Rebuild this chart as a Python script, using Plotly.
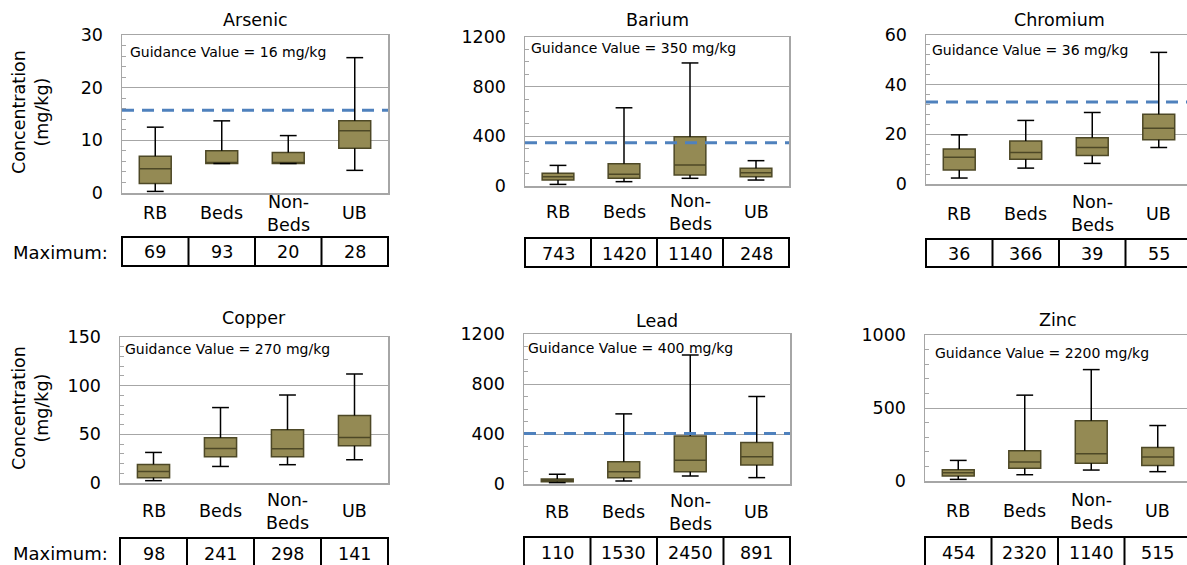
import plotly.graph_objects as go

W, H = 1187, 565

# ---------------- data ----------------
CATEGORIES = ["RB", "Beds", "Non-<br>Beds", "UB"]
METALS = ["Arsenic", "Barium", "Chromium", "Copper", "Lead", "Zinc"]
GUIDANCE_TEXT = [16, 350, 36, 270, 400, 2200]          # mg/kg, as labelled
GUIDANCE_LINE = [15.7, 348, 33, None, 405, None]       # dashed line as drawn
Y_MAX = [30, 1200, 60, 150, 1200, 1000]
Y_MAJOR = [10, 400, 20, 50, 400, 500]
Y_MINOR = [2, 100, 4, 10, 100, 100]

ARSENIC_LOW = [0.3, 5.6, 5.6, 4.3]
ARSENIC_Q1 = [1.8, 5.6, 5.6, 8.5]
ARSENIC_MED = [4.6, 5.8, 5.7, 11.8]
ARSENIC_Q3 = [7.0, 8.0, 7.7, 13.7]
ARSENIC_HIGH = [12.5, 13.7, 10.9, 25.7]
ARSENIC_MAX = [69, 93, 20, 28]

BARIUM_LOW = [13, 35, 62, 48]
BARIUM_Q1 = [48, 62, 88, 75]
BARIUM_MED = [75, 94, 169, 107]
BARIUM_Q3 = [102, 180, 396, 142]
BARIUM_HIGH = [166, 630, 991, 204]
BARIUM_MAX = [743, 1420, 1140, 248]

CHROMIUM_LOW = [2.4, 6.4, 8.3, 14.7]
CHROMIUM_Q1 = [5.6, 10.0, 11.5, 17.8]
CHROMIUM_MED = [10.8, 12.7, 14.7, 22.5]
CHROMIUM_Q3 = [14.1, 17.3, 18.6, 28.1]
CHROMIUM_HIGH = [19.8, 25.6, 28.8, 53.0]
CHROMIUM_MAX = [36, 366, 39, 55]

COPPER_LOW = [2.4, 17.0, 18.8, 23.9]
COPPER_Q1 = [5.5, 27.0, 27.0, 38.2]
COPPER_MED = [11.9, 35.5, 35.2, 46.8]
COPPER_Q3 = [19.1, 46.4, 54.6, 69.3]
COPPER_HIGH = [31.4, 77.5, 90.4, 112.0]
COPPER_MAX = [98, 241, 298, 141]

LEAD_LOW = [11, 24, 64, 51]
LEAD_Q1 = [19, 51, 99, 152]
LEAD_MED = [29, 99, 190, 219]
LEAD_Q3 = [40, 179, 385, 332]
LEAD_HIGH = [78, 561, 1032, 700]
LEAD_MAX = [110, 1530, 2450, 891]

ZINC_LOW = [11, 43, 75, 64]
ZINC_Q1 = [34, 87, 121, 107]
ZINC_MED = [57, 130, 187, 164]
ZINC_Q3 = [77, 207, 412, 230]
ZINC_HIGH = [141, 588, 763, 380]
ZINC_MAX = [454, 2320, 1140, 515]

STATS = [
    (ARSENIC_LOW, ARSENIC_Q1, ARSENIC_MED, ARSENIC_Q3, ARSENIC_HIGH, ARSENIC_MAX),
    (BARIUM_LOW, BARIUM_Q1, BARIUM_MED, BARIUM_Q3, BARIUM_HIGH, BARIUM_MAX),
    (CHROMIUM_LOW, CHROMIUM_Q1, CHROMIUM_MED, CHROMIUM_Q3, CHROMIUM_HIGH, CHROMIUM_MAX),
    (COPPER_LOW, COPPER_Q1, COPPER_MED, COPPER_Q3, COPPER_HIGH, COPPER_MAX),
    (LEAD_LOW, LEAD_Q1, LEAD_MED, LEAD_Q3, LEAD_HIGH, LEAD_MAX),
    (ZINC_LOW, ZINC_Q1, ZINC_MED, ZINC_Q3, ZINC_HIGH, ZINC_MAX),
]

# ---------------- layout (pixels) ----------------
PANELS = [
    dict(box=(122, 35, 388, 193), title_y=20, cat_y=213, table=(237, 266), gtext=(128, 52)),
    dict(box=(525, 37, 789, 186), title_y=20, cat_y=212, table=(238, 267), gtext=(529, 48)),
    dict(box=(926, 35, 1192, 184), title_y=20, cat_y=214, table=(239, 267), gtext=(930, 50)),
    dict(box=(120, 337, 388, 483), title_y=318, cat_y=511, table=(538, 567), gtext=(123, 349)),
    dict(box=(524, 334, 790, 484), title_y=321, cat_y=512, table=(537, 566), gtext=(526, 348)),
    dict(box=(925, 335, 1191, 481), title_y=320, cat_y=511, table=(537, 566), gtext=(933, 353)),
]

FONT = "DejaVu Sans"
GRID = "#a6a6a6"
FILL = "#948a54"
EDGE = "#4d4826"


def px(x):
    return x / W


def py(y):
    return 1 - y / H


fig = go.Figure()
annotations = []
shapes = []
xs_idx = list(range(len(CATEGORIES)))

for k, metal in enumerate(METALS):
    sfx = "" if k == 0 else str(k + 1)
    xa, ya = "x" + sfx, "y" + sfx
    low, q1, med, q3, high, mx = STATS[k]
    p = PANELS[k]
    left, top, right, bottom = p["box"]
    vis_right = min(right, W)
    frac = (vis_right - left) / (right - left)
    n = len(CATEGORIES)

    # whiskers (drawn from data)
    wx, wy = [], []
    for i in xs_idx:
        wx += [i, i, None, i, i, None]
        wy += [q3[i], high[i], None, q1[i], low[i], None]
    fig.add_trace(go.Scatter(x=wx, y=wy, mode="lines", xaxis=xa, yaxis=ya,
                             line=dict(color="black", width=1.5),
                             hoverinfo="skip", showlegend=False))
    fig.add_trace(go.Scatter(x=xs_idx + xs_idx, y=high + low, mode="markers",
                             xaxis=xa, yaxis=ya,
                             marker=dict(symbol="line-ew", size=12, color="black",
                                         line=dict(color="black", width=1.5)),
                             hoverinfo="skip", showlegend=False))
    fig.add_trace(go.Box(x=xs_idx, q1=q1, median=med, q3=q3,
                         lowerfence=q1, upperfence=q3, width=0.48, whiskerwidth=0,
                         fillcolor=FILL, line=dict(color=EDGE, width=1.5),
                         boxpoints=False, xaxis=xa, yaxis=ya,
                         hoverinfo="skip", showlegend=False))

    is_right_col = (k % 3 == 2)
    fig.layout["xaxis" + sfx] = dict(
        domain=[px(left), px(vis_right)],
        range=[-0.5, -0.5 + n * frac], anchor=ya, automargin=False,
        showticklabels=False, showgrid=False, zeroline=False, ticks="",
        showline=True, mirror=True, linecolor=GRID, linewidth=1.5, fixedrange=True,
    )
    fig.layout["yaxis" + sfx] = dict(
        domain=[py(bottom), py(top)], range=[0, Y_MAX[k]], anchor=xa, automargin=False,
        dtick=Y_MAJOR[k], tick0=0, showgrid=True, gridcolor=GRID, gridwidth=1,
        zeroline=False, showline=True, mirror=not is_right_col,
        linecolor=GRID, linewidth=1.5,
        ticks="inside", ticklen=4, tickcolor=GRID,
        minor=dict(dtick=Y_MINOR[k], tick0=0, ticks="inside", ticklen=4,
                   tickcolor=GRID, showgrid=False),
        tickfont=dict(family=FONT, size=17.5, color="black"),
        ticklabelstandoff=14, fixedrange=True,
    )

    # title
    annotations.append(dict(text=metal, xref="paper", yref="paper",
                            x=px((left + right) / 2), y=py(p["title_y"]),
                            xanchor="center", yanchor="middle", showarrow=False,
                            font=dict(family=FONT, size=17.5, color="black")))
    # guidance text
    annotations.append(dict(text=f"Guidance Value = {GUIDANCE_TEXT[k]} mg/kg",
                            xref="paper", yref="paper",
                            x=px(p["gtext"][0]), y=py(p["gtext"][1]),
                            xanchor="left", yanchor="middle", showarrow=False,
                            font=dict(family=FONT, size=14, color="black")))
    # guidance line
    if GUIDANCE_LINE[k] is not None:
        shapes.append(dict(type="line", xref=xa + " domain", yref=ya,
                           x0=0, x1=1, y0=GUIDANCE_LINE[k], y1=GUIDANCE_LINE[k],
                           line=dict(color="#4f81bd", width=3, dash="12px,8px")))
    # category labels
    for i, c in enumerate(CATEGORIES):
        annotations.append(dict(text=c, xref=xa, yref="paper", x=i, y=py(p["cat_y"]),
                                xanchor="center", yanchor="middle", showarrow=False,
                                font=dict(family=FONT, size=17.5, color="black")))
    # maximum table
    t0, t1 = p["table"]
    shapes.append(dict(type="rect", xref=xa + " domain", yref="paper",
                       x0=0, x1=1 / frac, y0=py(t1), y1=py(t0),
                       line=dict(color="black", width=2), fillcolor="rgba(0,0,0,0)"))
    for j in range(1, n):
        shapes.append(dict(type="line", xref=xa + " domain", yref="paper",
                           x0=j / n / frac, x1=j / n / frac, y0=py(t1), y1=py(t0),
                           line=dict(color="black", width=2)))
    for i, v in enumerate(mx):
        annotations.append(dict(text=str(v), xref=xa, yref="paper", x=i,
                                y=py((t0 + t1) / 2 + 1),
                                xanchor="center", yanchor="middle", showarrow=False,
                                font=dict(family=FONT, size=17.5, color="black")))
    if k % 3 == 0:
        annotations.append(dict(text="Maximum:", xref="paper", yref="paper",
                                x=px(110), y=py((t0 + t1) / 2 + 1),
                                xanchor="right", yanchor="middle", showarrow=False,
                                font=dict(family=FONT, size=18, color="black")))
        annotations.append(dict(text="Concentration<br>(mg/kg)", textangle=-90,
                                xref="paper", yref="paper",
                                x=px(30), y=py((top + bottom) / 2 - 2),
                                xanchor="center", yanchor="middle", showarrow=False,
                                font=dict(family=FONT, size=17.5, color="black")))

fig.update_layout(template="none", width=W, height=H,
                  margin=dict(l=0, r=0, t=0, b=0, autoexpand=False),
                  paper_bgcolor="white", plot_bgcolor="white", showlegend=False,
                  annotations=annotations, shapes=shapes)

fig.write_html(
    "out.html",
    config={"displayModeBar": False, "staticPlot": True},
    post_script="document.body.style.margin='0px';document.body.style.overflow='hidden';",
)
